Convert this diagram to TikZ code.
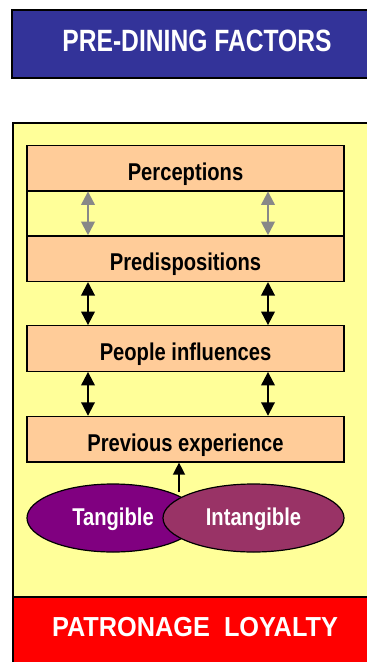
\documentclass[tikz,border=0pt]{standalone}
\usepackage{fontspec}
\setmainfont{Liberation Sans}
\newfontfamily\titlefont{Liberation Sans}[FakeStretch=0.8]
\newfontfamily\boxfont{Liberation Sans}[FakeStretch=0.83]
\newfontfamily\footfont{Liberation Sans}[FakeStretch=0.92]
\usetikzlibrary{arrows.meta,shapes.geometric}

\definecolor{headblue}{HTML}{333399}
\definecolor{panelyellow}{HTML}{FFFF99}
\definecolor{boxorange}{HTML}{FFCC99}
\definecolor{footred}{HTML}{FF0000}
\definecolor{tangpurple}{HTML}{800080}
\definecolor{intangplum}{HTML}{993366}
\definecolor{softgray}{HTML}{888888}

\tikzset{
  banner/.style={draw=black, line width=1.8pt, inner sep=0pt, text=white},
  factorbox/.style={draw=black, line width=1.3pt, fill=boxorange,
    minimum width=317pt, minimum height=45.5pt, inner sep=0pt,
    text height=24.3pt, text depth=0pt,
    font=\boxfont\bfseries\fontsize{24.3}{28}\selectfont},
  bandbox/.style={draw=black, line width=1.3pt, fill=panelyellow,
    minimum width=317pt, minimum height=45.3pt, inner sep=0pt},
  blob/.style={ellipse, draw=black, line width=1.2pt, inner sep=0pt,
    minimum height=68pt, text=white, text height=14pt, text depth=0pt,
    font=\boxfont\bfseries\fontsize{24.3}{28}\selectfont},
  twoway/.style={line width=2pt, black,
    {Triangle[width=13.5pt,length=13.5pt]}-{Triangle[width=13.5pt,length=13.5pt]}},
  twowaygray/.style={twoway, draw=softgray},
  oneway/.style={line width=1.4pt, black, -{Triangle[width=12pt,length=12pt]}}
}

\begin{document}
\begin{tikzpicture}[x=1pt,y=-1pt]
  \clip (0,0) rectangle (367,662);
  \fill[white] (0,0) rectangle (367,662);

  % heading bar
  \node[banner, fill=headblue, minimum width=370pt, minimum height=68pt,
        text height=15.4pt, text depth=0pt,
        font=\titlefont\bfseries\fontsize{30.8}{34}\selectfont]
        (head) at (197,44) {PRE-DINING FACTORS};

  % yellow panel holding the factors
  \filldraw[fill=panelyellow, draw=black, line width=1.8pt]
    (13,123) rectangle (395,597);

  % factor boxes
  \node[factorbox] (perc) at (185.5,168) {Perceptions};
  \node[bandbox]   (band) at (185.5,213.4) {};
  \node[factorbox] (pred) at (185.5,258.6) {Predispositions};
  \node[factorbox] (peop) at (185.5,348.5) {People influences};
  \node[factorbox] (prev) at (185.5,439.2) {Previous experience};
  \draw[black, line width=1.3pt] (perc.south west) -- (perc.south east);
  \draw[black, line width=1.3pt] (pred.north west) -- (pred.north east);

  % connector columns
  \coordinate (colL) at (88,0);
  \coordinate (colR) at (268,0);

  \draw[twowaygray] (perc.south -| colL) -- (pred.north -| colL);
  \draw[twowaygray] (perc.south -| colR) -- (pred.north -| colR);
  \draw[twoway] (pred.south -| colL) -- (peop.north -| colL);
  \draw[twoway] (pred.south -| colR) -- (peop.north -| colR);
  \draw[twoway] (peop.south -| colL) -- (prev.north -| colL);
  \draw[twoway] (peop.south -| colR) -- (prev.north -| colR);

  % tangible / intangible
  \node[blob, fill=tangpurple, minimum width=172pt] (tang) at (113,518) {Tangible};
  \node[blob, fill=intangplum, minimum width=181pt] (intang) at (253.5,518) {Intangible};

  \coordinate (meet) at (179,492);
  \draw[oneway] (meet) -- (prev.south -| meet);

  % outcome bar
  \node[banner, fill=footred, minimum width=364pt, minimum height=70pt,
        text height=9.4pt, text depth=0pt,
        font=\footfont\bfseries\fontsize{27.5}{31}\selectfont]
        (loyal) at (195,632) {PATRONAGE\ \ LOYALTY};
\end{tikzpicture}
\end{document}
